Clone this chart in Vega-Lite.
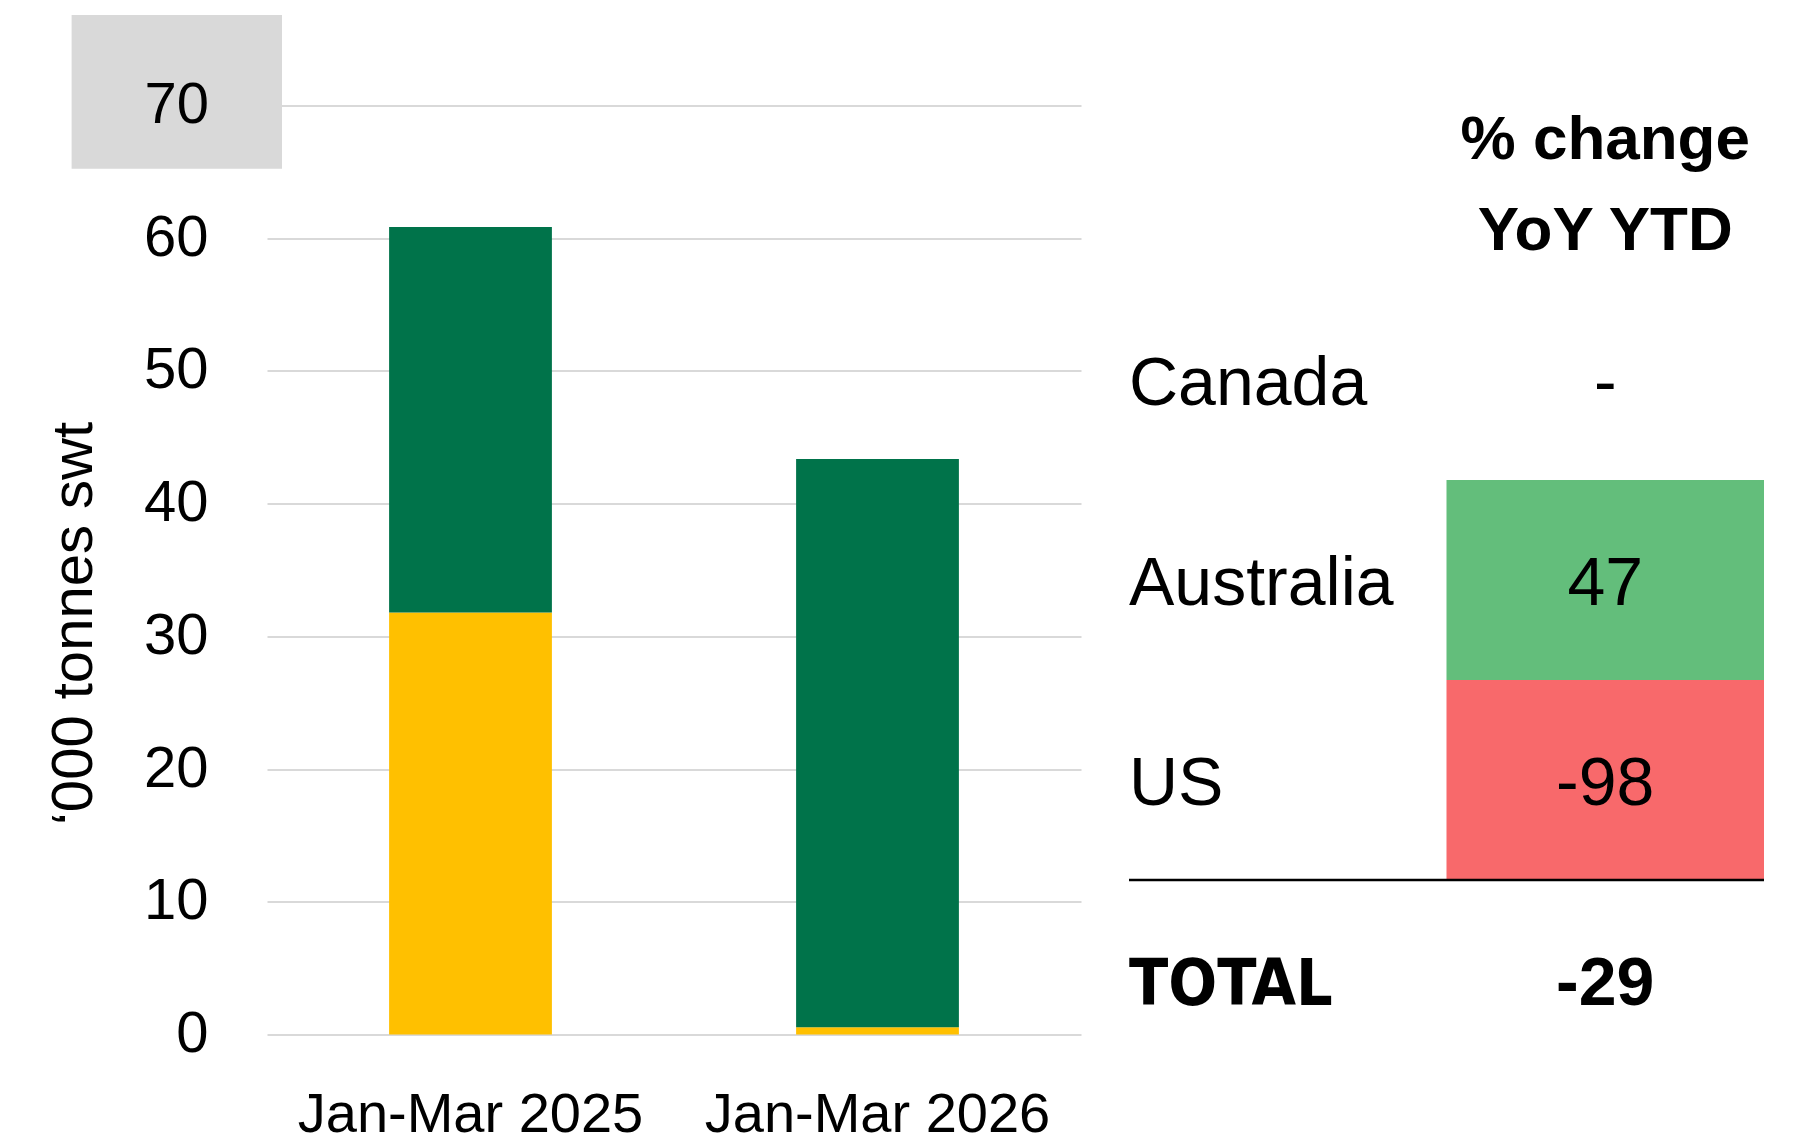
{
  "$schema": "https://vega.github.io/schema/vega-lite/v6.json",
  "width": 814,
  "height": 929,
  "autosize": {"type": "none"},
  "padding": {"left": 267, "top": 105.5, "right": 730, "bottom": 110.5},
  "background": "white",
  "config": {"view": {"stroke": null}, "font": "Liberation Sans"},
  "layer": [
    {
      "data": {"values": [
        {"period": "Jan-Mar 2025", "country": "US", "value": 31.79, "stackOrder": 1},
        {"period": "Jan-Mar 2025", "country": "Australia", "value": 29.06, "stackOrder": 2},
        {"period": "Jan-Mar 2026", "country": "US", "value": 0.54, "stackOrder": 1},
        {"period": "Jan-Mar 2026", "country": "Australia", "value": 42.83, "stackOrder": 2}
      ]},
      "mark": {"type": "bar"},
      "encoding": {
        "x": {
          "field": "period", "type": "nominal", "sort": null,
          "scale": {"paddingInner": 0.6, "paddingOuter": 0.3},
          "axis": {"title": null, "labelAngle": 0, "labelFontSize": 56, "labelLimit": 0, "labelColor": "#000000", "labelBaseline": "alphabetic", "labelPadding": 97, "ticks": false, "tickSize": 0, "domain": false, "grid": false}
        },
        "y": {
          "field": "value", "type": "quantitative", "stack": "zero",
          "scale": {"domain": [0, 70], "nice": false},
          "axis": {
            "title": "‘000 tonnes swt", "values": [0, 10, 20, 30, 40, 50, 60, 70],
            "labelExpr": "datum.value == 70 ? '' : datum.label",
            "grid": true, "gridColor": "#D9D9D9", "gridWidth": 2,
            "domain": false, "ticks": false, "tickSize": 0,
            "labelFontSize": 58, "labelColor": "#000000", "labelPadding": 59,
            "titleFontSize": 58, "titleFontWeight": "normal", "titleColor": "#000000",
            "titleX": -176, "titleY": 517.5, "titleAngle": 270, "titleAlign": "center", "titleBaseline": "alphabetic"
          }
        },
        "color": {"field": "country", "type": "nominal", "scale": {"domain": ["US", "Australia"], "range": ["#FFC000", "#00734A"]}, "legend": null},
        "order": {"field": "stackOrder", "type": "quantitative"}
      }
    },
    {
      "data": {"values": [{"bx0": 0, "bx1": 1, "by0": 65.24, "by1": 76.82}]},
      "mark": {"type": "rect", "color": "#D9D9D9"},
      "encoding": {
        "x": {"field": "bx0", "type": "quantitative", "scale": {"domain": [0, 1], "range": [-195.4, 15], "nice": false}, "axis": null},
        "x2": {"field": "bx1"},
        "y": {"field": "by0", "type": "quantitative", "scale": {"domain": [0, 70], "nice": false}, "axis": null},
        "y2": {"field": "by1"}
      }
    },
    {
      "data": {"values": [{"lx": 0.5, "ly": 70, "t": "70"}]},
      "mark": {"type": "text", "fontSize": 58, "align": "center", "baseline": "middle", "color": "#000000"},
      "encoding": {
        "x": {"field": "lx", "type": "quantitative", "scale": {"domain": [0, 1], "range": [-195.4, 15], "nice": false}, "axis": null},
        "y": {"field": "ly", "type": "quantitative", "scale": {"domain": [0, 70], "nice": false}, "axis": null},
        "text": {"field": "t"}
      }
    },
    {
      "data": {"values": [
        {"c0": 1, "c1": 2, "r0": 2, "r1": 3, "dir": "up"},
        {"c0": 1, "c1": 2, "r0": 3, "r1": 4, "dir": "down"}
      ]},
      "mark": {"type": "rect"},
      "encoding": {
        "x": {"field": "c0", "type": "quantitative", "scale": {"domain": [0, 2], "range": [862, 1497], "nice": false, "zero": false}, "axis": null},
        "x2": {"field": "c1"},
        "y": {"field": "r0", "type": "quantitative", "scale": {"domain": [0, 5], "range": [-25.5, 974.5], "nice": false, "zero": false}, "axis": null},
        "y2": {"field": "r1"},
        "color": {"field": "dir", "type": "nominal", "scale": {"domain": ["up", "down"], "range": ["#63BE7B", "#F8696B"]}, "legend": null}
      }
    },
    {
      "data": {"values": [{"c0": 0, "c1": 2, "r": 4}]},
      "mark": {"type": "rule", "color": "#000000", "strokeWidth": 2.5},
      "encoding": {
        "x": {"field": "c0", "type": "quantitative", "scale": {"domain": [0, 2], "range": [862, 1497], "nice": false, "zero": false}, "axis": null},
        "x2": {"field": "c1"},
        "y": {"field": "r", "type": "quantitative", "scale": {"domain": [0, 5], "range": [-25.5, 974.5], "nice": false, "zero": false}, "axis": null}
      }
    },
    {
      "data": {"values": [
        {"c": 0, "r": 1.5, "t": "Canada"},
        {"c": 0, "r": 2.5, "t": "Australia"},
        {"c": 0, "r": 3.5, "t": "US"}
      ]},
      "mark": {"type": "text", "fontSize": 68, "align": "left", "baseline": "alphabetic", "dy": 25, "color": "#000000"},
      "encoding": {
        "x": {"field": "c", "type": "quantitative", "scale": {"domain": [0, 2], "range": [862, 1497], "nice": false, "zero": false}, "axis": null},
        "y": {"field": "r", "type": "quantitative", "scale": {"domain": [0, 5], "range": [-25.5, 974.5], "nice": false, "zero": false}, "axis": null},
        "text": {"field": "t"}
      }
    },
    {
      "data": {"values": [
        {"c": 1.5, "r": 1.5, "t": "-"},
        {"c": 1.5, "r": 2.5, "t": "47"},
        {"c": 1.5, "r": 3.5, "t": "-98"}
      ]},
      "mark": {"type": "text", "fontSize": 68, "align": "center", "baseline": "alphabetic", "dy": 25, "color": "#000000"},
      "encoding": {
        "x": {"field": "c", "type": "quantitative", "scale": {"domain": [0, 2], "range": [862, 1497], "nice": false, "zero": false}, "axis": null},
        "y": {"field": "r", "type": "quantitative", "scale": {"domain": [0, 5], "range": [-25.5, 974.5], "nice": false, "zero": false}, "axis": null},
        "text": {"field": "t"}
      }
    },
    {
      "data": {"values": [{"c": 0, "r": 4.5, "t": "TOTAL"}]},
      "mark": {"type": "text", "font": "DejaVu Sans Condensed", "fontWeight": "bold", "fontSize": 64, "align": "left", "baseline": "alphabetic", "dy": 25, "color": "#000000"},
      "encoding": {
        "x": {"field": "c", "type": "quantitative", "scale": {"domain": [0, 2], "range": [862, 1497], "nice": false, "zero": false}, "axis": null},
        "y": {"field": "r", "type": "quantitative", "scale": {"domain": [0, 5], "range": [-25.5, 974.5], "nice": false, "zero": false}, "axis": null},
        "text": {"field": "t"}
      }
    },
    {
      "data": {"values": [{"c": 1.5, "r": 4.5, "t": "-29"}]},
      "mark": {"type": "text", "fontWeight": "bold", "fontSize": 68, "align": "center", "baseline": "alphabetic", "dy": 25, "color": "#000000"},
      "encoding": {
        "x": {"field": "c", "type": "quantitative", "scale": {"domain": [0, 2], "range": [862, 1497], "nice": false, "zero": false}, "axis": null},
        "y": {"field": "r", "type": "quantitative", "scale": {"domain": [0, 5], "range": [-25.5, 974.5], "nice": false, "zero": false}, "axis": null},
        "text": {"field": "t"}
      }
    },
    {
      "data": {"values": [{"c": 1.5, "r": 0.5, "t": "% change\nYoY YTD"}]},
      "mark": {"type": "text", "fontWeight": "bold", "fontSize": 62, "align": "center", "baseline": "middle", "lineBreak": "\n", "lineHeight": 90.7, "dy": -40, "color": "#000000"},
      "encoding": {
        "x": {"field": "c", "type": "quantitative", "scale": {"domain": [0, 2], "range": [862, 1497], "nice": false, "zero": false}, "axis": null},
        "y": {"field": "r", "type": "quantitative", "scale": {"domain": [0, 5], "range": [-25.5, 974.5], "nice": false, "zero": false}, "axis": null},
        "text": {"field": "t"}
      }
    }
  ],
  "resolve": {"scale": {"x": "independent", "y": "independent", "color": "independent"}}
}
